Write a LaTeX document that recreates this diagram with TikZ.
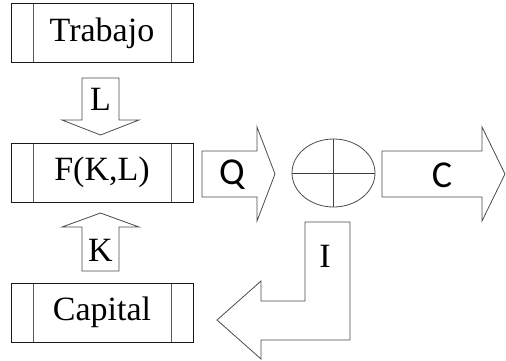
\documentclass[tikz,border=0pt]{standalone}
\usepackage{fontspec}
\setmainfont{Liberation Serif}
\newfontfamily\carl{Carlito}
\usetikzlibrary{calc,shapes.geometric}
\begin{document}
\begin{tikzpicture}[x=1pt,y=-1pt,
  line width=0.8pt,
  ln/.style={draw=black!75},
  blk/.style={draw=black!70, fill=white, line join=miter},
  procbox/.style={draw=black!90, rectangle, minimum width=182pt, minimum height=59pt, inner sep=0pt,
    font=\fontsize{34}{40}\selectfont,
    path picture={\draw[black!65] ([xshift=22pt]path picture bounding box.south west) -- ([xshift=22pt]path picture bounding box.north west);
                  \draw[black!65] ([xshift=-22pt]path picture bounding box.south east) -- ([xshift=-22pt]path picture bounding box.north east);}},
  lbl/.style={inner sep=0pt, font=\fontsize{34}{40}\selectfont},
  slbl/.style={inner sep=0pt, font=\carl\fontsize{38}{44}\selectfont}
]
\useasboundingbox (0,0) rectangle (506,360);
% process boxes
\node[procbox] (trab) at (102,33) {Trabajo};
\node[procbox] (fkl) at (102,172.5) {F(K,L)};
\node[procbox] (cap) at (102,312.5) {Capital};
% L arrow (down)
\draw[blk] (82,78) -- (119,78) -- (119,120) -- (139,120) -- (100.5,135) -- (62,120) -- (82,120) -- cycle;
\node[lbl] (L) at (100.5,99) {L};
% K arrow (up)
\draw[blk] (82,271) -- (119,271) -- (119,227) -- (139,227) -- (100.5,213) -- (62,227) -- (82,227) -- cycle;
\node[lbl] (K) at (100.5,250) {K};
% Q arrow
\draw[blk] (202,151) -- (257,151) -- (257,127) -- (275,174) -- (257,221) -- (257,197) -- (202,197) -- cycle;
\node[slbl] (Q) at (232,175) {Q};
% summing junction
\node[draw=black!70, ellipse, minimum width=83pt, minimum height=68pt, inner sep=0pt] (sum) at (333.5,173) {};
\draw[ln] (sum.north) -- (sum.south);
\draw[ln] (sum.west) -- (sum.east);
% C arrow
\draw[blk] (382,151) -- (482,151) -- (482,127) -- (505,174) -- (482,221) -- (482,197) -- (382,197) -- cycle;
\node[slbl] (C) at (442,175) {C};
% I arrow (bent)
\draw[blk] (305,222) -- (350,222) -- (350,340) -- (261,340) -- (261,359) -- (217,320) -- (261,281) -- (261,301) -- (305,301) -- cycle;
\node[lbl] (I) at (325,256) {I};
\end{tikzpicture}
\end{document}
